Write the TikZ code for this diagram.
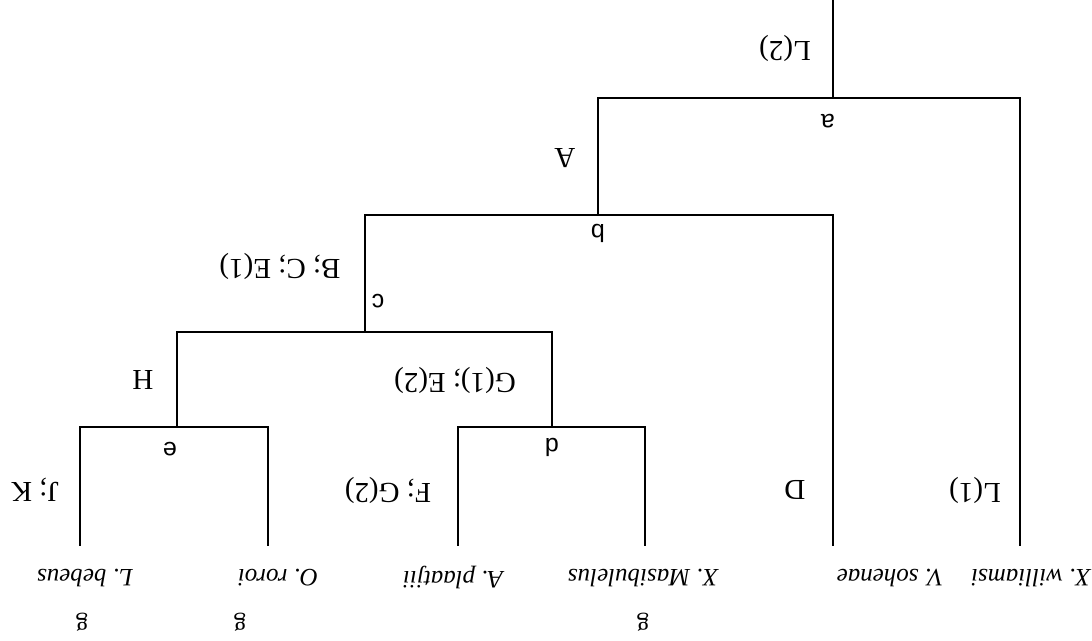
\documentclass[tikz,border=0pt]{standalone}
\usepackage{fontspec}
\setmainfont{Liberation Serif}
\newfontfamily\jfont{Liberation Sans}
\tikzset{
  br/.style={line width=1pt, line cap=rect},
  chg/.style={rotate=180, inner sep=0pt, font=\fontsize{14.5}{16}\selectfont},
  jn/.style={rotate=180, inner sep=0pt, font=\jfont\fontsize{12.5}{14}\selectfont},
  taxon/.style={rotate=180, inner sep=0pt, font=\fontsize{12.5}{14}\selectfont\itshape},
  gmark/.style={rotate=180, inner sep=0pt, font=\fontsize{12.5}{14}\selectfont},
}
\begin{document}
\begin{tikzpicture}[x=0.5pt, y=-0.5pt]
  \useasboundingbox (0,0) rectangle (1092,641);
  % junctions
  \coordinate (top) at (833,0);
  \coordinate (a) at (833,98);
  \coordinate (b) at (598,215);
  \coordinate (c) at (365,332);
  \coordinate (d) at (552,427);
  \coordinate (e) at (177,427);
  % leaf tips
  \coordinate (wil) at (1020,545);
  \coordinate (soh) at (833,545);
  \coordinate (mas) at (645,545);
  \coordinate (pla) at (458,545);
  \coordinate (ror) at (268,545);
  \coordinate (beb) at (80,545);
  % branches
  \draw[br] (top) -- (a);
  \draw[br] (a) -| (wil);
  \draw[br] (a) -| (b);
  \draw[br] (b) -| (soh);
  \draw[br] (b) -| (c);
  \draw[br] (c) -| (d);
  \draw[br] (c) -| (e);
  \draw[br] (d) -| (mas);
  \draw[br] (d) -| (pla);
  \draw[br] (e) -| (ror);
  \draw[br] (e) -| (beb);
  % junction letters
  \node[jn] (la) at (828,121) {a};
  \node[jn] (lb) at (598,233) {b};
  \node[jn] (lc) at (378,301) {c};
  \node[jn] (ld) at (552,447) {d};
  \node[jn] (le) at (170,449) {e};
  % character changes
  \node[chg] (cL2) at (785,48) {L(2)};
  \node[chg] (cA) at (565,158) {A};
  \node[chg] (cBCE) at (280,266) {B; C; E(1)};
  \node[chg] (cGE) at (455,380) {G(1); E(2)};
  \node[chg] (cH) at (143,380) {H};
  \node[chg] (cL1) at (975,490) {L(1)};
  \node[chg] (cD) at (795,490) {D};
  \node[chg] (cFG) at (388,490) {F; G(2)};
  \node[chg] (cJK) at (35,490) {J; K};
  % taxa
  \node[taxon] (tWil) at (1031,578) {X. williamsi};
  \node[taxon] (tSoh) at (890,578) {V. sohenae};
  \node[taxon] (tMas) at (643,578) {X. Masibulelus};
  \node[taxon] (tPla) at (453,578) {A. plaatjii};
  \node[taxon] (tRor) at (278,578) {O. roroi};
  \node[taxon] (tBeb) at (85,578) {L. bebeus};
  \node[gmark] (gMas) at (643,622) {g};
  \node[gmark] (gRor) at (240,622) {g};
  \node[gmark] (gBeb) at (82,622) {g};
\end{tikzpicture}
\end{document}
